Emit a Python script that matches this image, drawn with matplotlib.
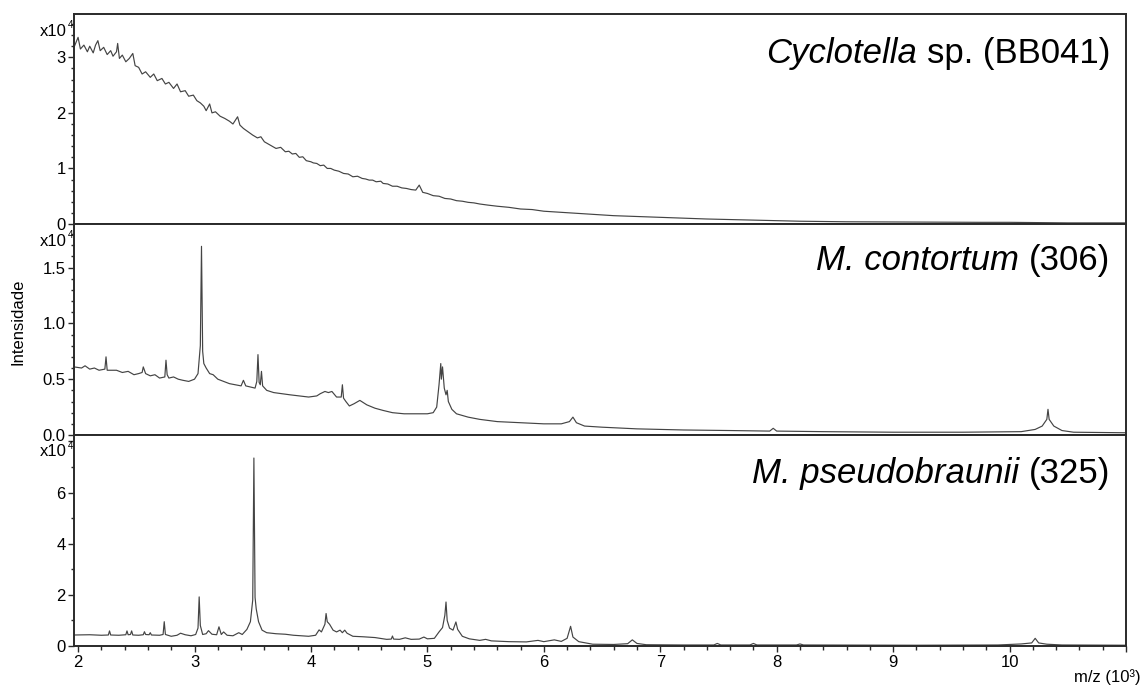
import matplotlib
matplotlib.use("Agg")
import matplotlib.pyplot as plt
from matplotlib.ticker import MultipleLocator, FuncFormatter

plt.rcParams['font.family'] = ['Liberation Sans', 'DejaVu Sans']

# m/z in units of 10^3, intensity in units of 10^4
cyclo_mz = [1.965, 2.00, 2.02, 2.05, 2.08, 2.10, 2.13, 2.15, 2.17, 2.19, 2.22, 2.25,
            2.28, 2.30, 2.33, 2.34, 2.355, 2.38, 2.41, 2.44, 2.47, 2.49, 2.52, 2.55,
            2.58, 2.62, 2.65, 2.68, 2.72, 2.75, 2.78, 2.82, 2.85, 2.88, 2.92, 2.95,
            2.99, 3.02, 3.05, 3.08, 3.10, 3.13, 3.15, 3.18, 3.22, 3.26, 3.30, 3.33,
            3.37, 3.39, 3.42, 3.46, 3.50, 3.54, 3.57, 3.60, 3.65, 3.70, 3.74, 3.78,
            3.81, 3.84, 3.87, 3.90, 3.93, 3.96, 4.00, 4.02, 4.05, 4.08, 4.11, 4.14,
            4.17, 4.20, 4.24, 4.28, 4.32, 4.36, 4.40, 4.44, 4.47, 4.50, 4.53, 4.56,
            4.60, 4.62, 4.66, 4.70, 4.74, 4.78, 4.82, 4.86, 4.90, 4.93, 4.96, 5.00,
            5.05, 5.10, 5.15, 5.20, 5.25, 5.30, 5.35, 5.40, 5.45, 5.52, 5.60, 5.70,
            5.80, 5.90, 6.00, 6.15, 6.30, 6.45, 6.60, 6.80, 7.00, 7.20, 7.40, 7.60,
            7.80, 8.00, 8.20, 8.40, 8.60, 8.80, 9.00, 9.25, 9.50, 9.75, 10.00, 10.25,
            10.50, 10.75, 11.00]
cyclo_int = [3.18, 3.36, 3.15, 3.22, 3.10, 3.20, 3.08, 3.22, 3.30, 3.12, 3.18, 3.05,
             3.12, 3.02, 3.10, 3.25, 2.98, 3.04, 2.92, 2.98, 3.07, 2.85, 2.82, 2.70,
             2.74, 2.64, 2.70, 2.58, 2.62, 2.52, 2.55, 2.44, 2.52, 2.38, 2.40, 2.30,
             2.32, 2.22, 2.18, 2.12, 2.04, 2.16, 2.00, 2.02, 1.94, 1.90, 1.85, 1.80,
             1.93, 1.78, 1.72, 1.66, 1.60, 1.55, 1.57, 1.48, 1.42, 1.36, 1.38, 1.30,
             1.31, 1.26, 1.27, 1.20, 1.21, 1.14, 1.12, 1.10, 1.09, 1.05, 1.06, 1.00,
             1.00, 0.97, 0.95, 0.91, 0.90, 0.85, 0.86, 0.82, 0.81, 0.79, 0.79, 0.76,
             0.77, 0.73, 0.72, 0.68, 0.68, 0.65, 0.64, 0.62, 0.61, 0.70, 0.57, 0.55,
             0.51, 0.50, 0.46, 0.45, 0.42, 0.41, 0.39, 0.38, 0.36, 0.34, 0.32, 0.30,
             0.27, 0.26, 0.23, 0.21, 0.19, 0.17, 0.15, 0.135, 0.12, 0.105, 0.09, 0.08,
             0.07, 0.06, 0.05, 0.045, 0.04, 0.038, 0.035, 0.032, 0.03, 0.03, 0.03, 0.025,
             0.02, 0.02, 0.02]

cont_mz = [1.965, 2.03, 2.06, 2.10, 2.14, 2.18, 2.23, 2.24, 2.25, 2.28, 2.33, 2.38,
           2.43, 2.48, 2.52, 2.55, 2.56, 2.58, 2.62, 2.66, 2.70, 2.745, 2.755, 2.765,
           2.78, 2.82, 2.86, 2.90, 2.95, 3.00, 3.03, 3.05, 3.06, 3.07, 3.08, 3.10,
           3.13, 3.16, 3.20, 3.25, 3.30, 3.35, 3.40, 3.42, 3.44, 3.48, 3.52, 3.535,
           3.545, 3.555, 3.565, 3.575, 3.585, 3.62, 3.68, 3.75, 3.82, 3.90, 3.98, 4.05,
           4.08, 4.12, 4.15, 4.18, 4.22, 4.26, 4.27, 4.28, 4.30, 4.33, 4.37, 4.42,
           4.48, 4.55, 4.62, 4.70, 4.80, 4.90, 5.00, 5.05, 5.08, 5.10, 5.115, 5.12,
           5.13, 5.145, 5.16, 5.17, 5.18, 5.21, 5.25, 5.35, 5.45, 5.60, 5.80, 6.00,
           6.15, 6.22, 6.25, 6.28, 6.35, 6.50, 6.80, 7.20, 7.60, 7.94, 7.97, 8.00,
           8.40, 9.00, 9.60, 10.10, 10.22, 10.28, 10.32, 10.33, 10.34, 10.38, 10.45,
           10.55, 11.00]
cont_int = [0.61, 0.60, 0.62, 0.59, 0.60, 0.58, 0.59, 0.70, 0.58, 0.58, 0.58, 0.56,
            0.57, 0.54, 0.55, 0.56, 0.61, 0.55, 0.53, 0.54, 0.51, 0.52, 0.67, 0.54,
            0.51, 0.52, 0.50, 0.49, 0.48, 0.50, 0.55, 0.80, 1.69, 0.75, 0.64, 0.60,
            0.55, 0.54, 0.50, 0.48, 0.46, 0.45, 0.44, 0.49, 0.44, 0.43, 0.42, 0.48,
            0.72, 0.47, 0.45, 0.57, 0.44, 0.40, 0.38, 0.37, 0.36, 0.35, 0.34, 0.35,
            0.37, 0.39, 0.38, 0.39, 0.34, 0.34, 0.45, 0.33, 0.30, 0.26, 0.28, 0.31,
            0.27, 0.24, 0.22, 0.20, 0.19, 0.19, 0.19, 0.20, 0.25, 0.45, 0.64, 0.50,
            0.61, 0.42, 0.36, 0.40, 0.30, 0.23, 0.19, 0.16, 0.14, 0.12, 0.11, 0.10,
            0.10, 0.12, 0.16, 0.11, 0.08, 0.07, 0.055, 0.045, 0.04, 0.035, 0.06, 0.035,
            0.03, 0.025, 0.025, 0.03, 0.05, 0.08, 0.14, 0.23, 0.14, 0.08, 0.04,
            0.025, 0.02]

pseudo_mz = [1.965, 2.10, 2.20, 2.26, 2.27, 2.28, 2.35, 2.41, 2.42, 2.43, 2.45, 2.46,
             2.47, 2.52, 2.56, 2.57, 2.58, 2.61, 2.62, 2.63, 2.70, 2.73, 2.74, 2.75,
             2.80, 2.85, 2.88, 2.92, 2.97, 3.01, 3.03, 3.04, 3.05, 3.07, 3.10, 3.12,
             3.15, 3.19, 3.21, 3.23, 3.25, 3.28, 3.33, 3.38, 3.41, 3.45, 3.48, 3.50,
             3.51, 3.52, 3.53, 3.55, 3.58, 3.62, 3.70, 3.78, 3.85, 3.92, 3.98, 4.04,
             4.07, 4.09, 4.12, 4.13, 4.14, 4.16, 4.19, 4.22, 4.25, 4.27, 4.29, 4.31,
             4.36, 4.45, 4.55, 4.65, 4.69, 4.70, 4.71, 4.76, 4.81, 4.86, 4.93, 4.97,
             5.00, 5.06, 5.10, 5.13, 5.15, 5.16, 5.17, 5.19, 5.22, 5.245, 5.26, 5.30,
             5.36, 5.45, 5.50, 5.55, 5.70, 5.85, 5.95, 6.00, 6.09, 6.15, 6.20, 6.23,
             6.25, 6.30, 6.42, 6.60, 6.72, 6.76, 6.80, 6.88, 7.20, 7.46, 7.49, 7.52,
             7.77, 7.80, 7.83, 8.00, 8.17, 8.20, 8.23, 8.60, 9.20, 9.90, 10.10, 10.19,
             10.22, 10.25, 10.32, 10.45, 11.00]
pseudo_int = [0.43, 0.44, 0.42, 0.43, 0.59, 0.43, 0.42, 0.44, 0.59, 0.44, 0.45, 0.59,
              0.43, 0.42, 0.44, 0.56, 0.45, 0.44, 0.52, 0.43, 0.42, 0.45, 0.95, 0.45,
              0.38, 0.42, 0.50, 0.44, 0.40, 0.45, 0.70, 1.92, 0.80, 0.45, 0.48, 0.60,
              0.46, 0.44, 0.75, 0.45, 0.55, 0.42, 0.40, 0.52, 0.45, 0.65, 0.95, 1.80,
              7.35, 1.90, 1.45, 0.95, 0.62, 0.52, 0.48, 0.46, 0.42, 0.40, 0.38, 0.42,
              0.63, 0.55, 0.85, 1.27, 0.95, 0.85, 0.62, 0.55, 0.62, 0.52, 0.62, 0.50,
              0.38, 0.36, 0.33, 0.26, 0.27, 0.39, 0.27, 0.26, 0.32, 0.26, 0.27, 0.35,
              0.28, 0.30, 0.55, 0.72, 1.20, 1.72, 1.00, 0.70, 0.62, 0.94, 0.65, 0.38,
              0.28, 0.22, 0.26, 0.20, 0.17, 0.16, 0.22, 0.17, 0.24, 0.18, 0.30, 0.77,
              0.35, 0.17, 0.07, 0.06, 0.09, 0.24, 0.10, 0.05, 0.04, 0.04, 0.10, 0.04,
              0.04, 0.10, 0.04, 0.04, 0.04, 0.08, 0.04, 0.035, 0.03, 0.04, 0.08, 0.12,
              0.30, 0.12, 0.07, 0.04, 0.03]

# (italic taxon name, plain remainder) for each panel label
panel_names = [('Cyclotella', 'sp. (BB041)'),
               ('M. contortum', '(306)'),
               ('M. pseudobraunii', '(325)')]
y_limits = [3.78, 1.89, 8.25]
y_major = [1.0, 0.5, 2.0]
y_minor = [0.2, 0.1, 1.0]
y_label_max = [3, 1.5, 6]
y_formats = ['%d', '%.1f', '%d']
series = [(cyclo_mz, cyclo_int), (cont_mz, cont_int), (pseudo_mz, pseudo_int)]

W, H = 1143, 686
fig = plt.figure(figsize=(W / 100, H / 100), dpi=100)
renderer = fig.canvas.get_renderer()

left, right = 74, 1126
edges = [14, 224, 435, 646]
title_base = [49, 46, 48]
line_color = '#444444'
frame_color = '#2a2a2a'


def y_fmt(fmt, vmax):
    return FuncFormatter(lambda v, p: (fmt % v) if v <= vmax + 1e-9 else '')


for i in range(3):
    top_px, bot_px = edges[i], edges[i + 1]
    ax = fig.add_axes([left / W, 1 - bot_px / H, (right - left) / W, (bot_px - top_px) / H])
    mz, inten = series[i]
    ax.plot(mz, inten, color=line_color, lw=0.85)
    ax.set_xlim(1.965, 11.0)
    ax.set_ylim(0, y_limits[i])
    ax.yaxis.set_major_locator(MultipleLocator(y_major[i]))
    ax.yaxis.set_minor_locator(MultipleLocator(y_minor[i]))
    ax.yaxis.set_major_formatter(y_fmt(y_formats[i], y_label_max[i]))
    ax.xaxis.set_major_locator(MultipleLocator(1))
    ax.xaxis.set_minor_locator(MultipleLocator(0.2))
    ax.xaxis.set_major_formatter(FuncFormatter(lambda v, p: '%d' % v if v < 10.5 else ''))
    ax.tick_params(axis='y', which='both', direction='out', left=True, right=False,
                   labelsize=12, width=1.0, color=frame_color, pad=2)
    ax.tick_params(axis='y', which='major', length=4)
    ax.tick_params(axis='y', which='minor', length=2.5)
    if i < 2:
        ax.tick_params(axis='x', which='both', bottom=False, top=False, labelbottom=False)
    else:
        ax.tick_params(axis='x', which='both', direction='out', bottom=True, top=False,
                       labelsize=12, width=1.0, color=frame_color, pad=2)
        ax.tick_params(axis='x', which='major', length=4.5)
        ax.tick_params(axis='x', which='minor', length=3)
    for sp in ax.spines.values():
        sp.set_color(frame_color)
        sp.set_linewidth(1.4)

    # panel label: italic taxon name followed by plain text, right-aligned
    base_y = 1 - (top_px + title_base[i]) / H
    plain = fig.text(1110 / W, base_y, panel_names[i][1], ha='right', va='baseline',
                     fontsize=25, color='black')
    bb = plain.get_window_extent(renderer)
    fig.text((bb.x0 - 9.5) / W, base_y, panel_names[i][0], ha='right', va='baseline',
             fontsize=25, style='italic', color='black')

    # exponent marker above the y axis
    fig.text(67 / W, 1 - (top_px + 17) / H, 'x10', ha='right', va='center', fontsize=12)
    fig.text(68 / W, 1 - (top_px + 11) / H, '4', ha='left', va='center', fontsize=7)

fig.text(18 / W, 1 - 322 / H, 'Intensidade', rotation=90, ha='center', va='center', fontsize=12)
fig.text(1141 / W, 1 - 677 / H, 'm/z (10³)', ha='right', va='center', fontsize=12)

fig.savefig('out.png', dpi=100)
